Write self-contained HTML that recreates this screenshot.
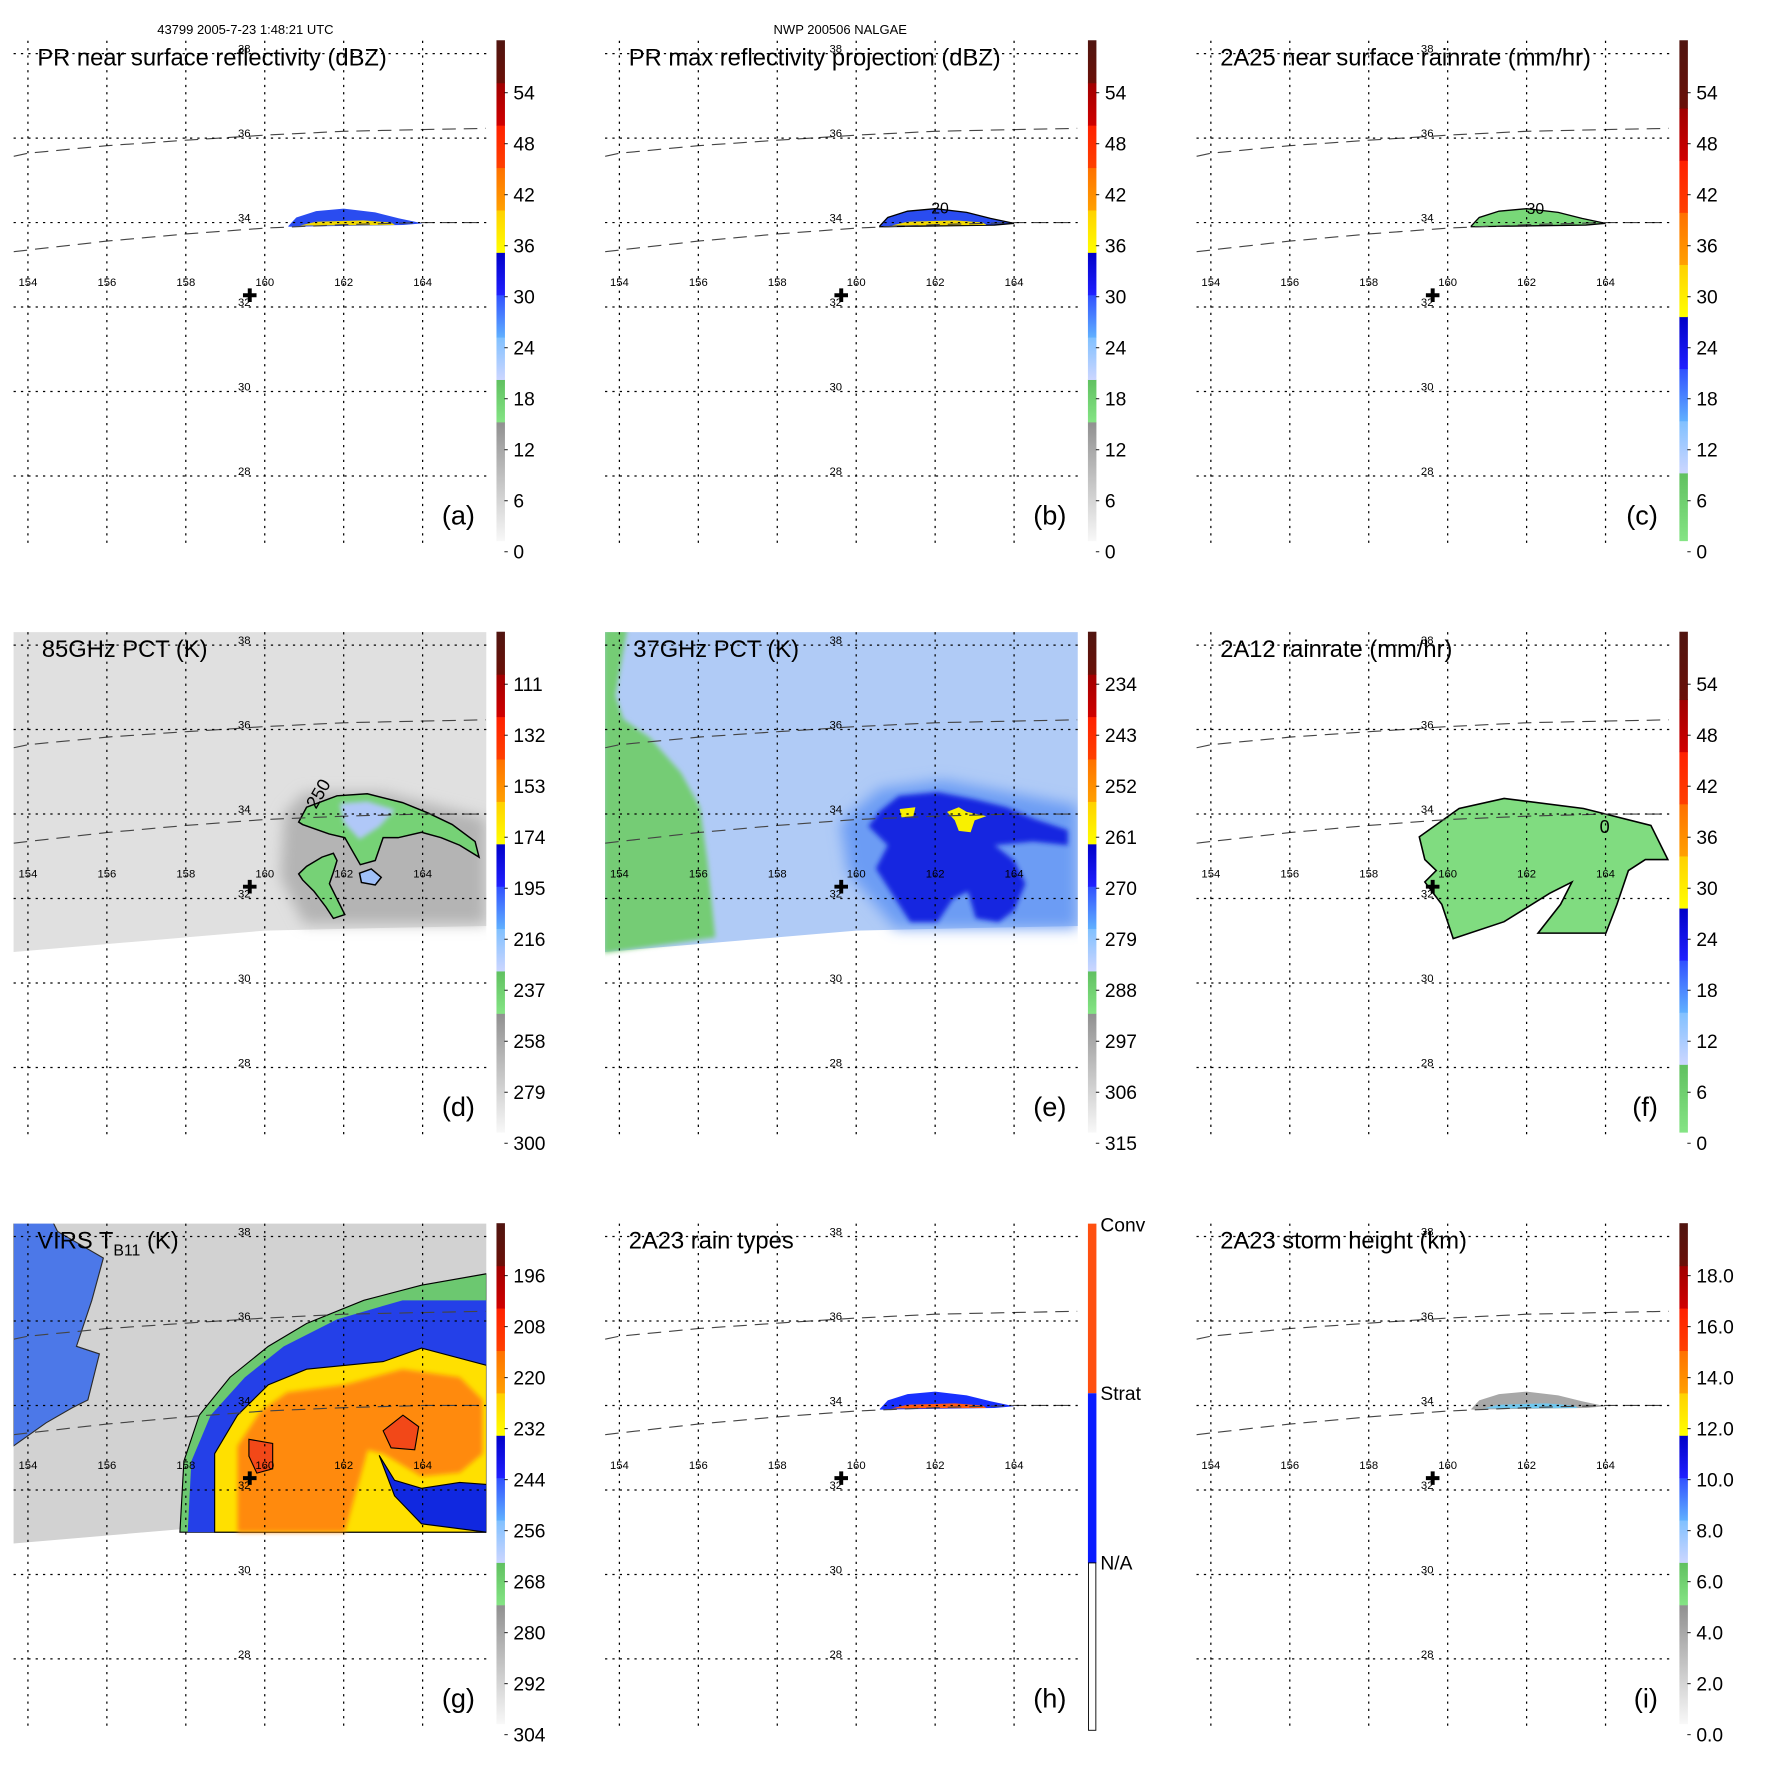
<!DOCTYPE html>
<html><head><meta charset="utf-8"><title>TRMM overpass panels</title>
<style>
html,body{margin:0;padding:0;background:#fff;}
svg{display:block;font-family:"Liberation Sans",Arial,sans-serif;}
</style></head>
<body>
<svg id="fig" xmlns="http://www.w3.org/2000/svg" width="1771" height="1771" viewBox="0 0 1566 1566">
<defs>
  <filter id="soft" x="-20%" y="-20%" width="140%" height="140%"><feGaussianBlur stdDeviation="6"/></filter>
  <filter id="soft2" x="-20%" y="-20%" width="140%" height="140%"><feGaussianBlur stdDeviation="2"/></filter>
  <clipPath id="mapclip"><rect x="12" y="36" width="418" height="448"/></clipPath>
</defs>
<text x="217" y="30" font-size="11.5" text-anchor="middle">43799 2005-7-23 1:48:21 UTC</text>
<text x="743" y="30" font-size="11.5" text-anchor="middle">NWP 200506 NALGAE</text>
</svg>
<script>
// ---- axes data ----
const lonTicks = [154,156,158,160,162,164];
const latTicks = [38,36,34,32,30,28];
const stormCenter = [159.62, 32.28];
const swathTop = [[153.64,35.57],[154,35.64],[156,35.82],[158,35.95],[160,36.07],[162,36.16],[164,36.2],[165.6,36.23]];
const swathBot = [[153.64,33.31],[154,33.35],[156,33.56],[158,33.73],[160,33.87],[162,33.95],[164,34.0],[165.6,34.0]];
const tmiSwath = [[153.6,38.4],[165.65,38.4],[165.65,31.35],[163,31.3],[160,31.24],[157,31.0],[153.6,30.73]];
const prBlob = [[160.6,33.92],[160.8,34.12],[161.3,34.27],[162,34.33],[162.8,34.24],[163.4,34.1],[164,33.98],[163.5,33.94],[160.6,33.9]];
const prCore = [[160.9,33.93],[161.3,34.02],[162.5,34.05],[163.2,34.0],[163.3,33.94]];
const pct85Shade = [[160.5,34.0],[161,34.5],[163,34.5],[165.6,33.9],[165.6,31.4],[161,31.4],[160.4,32.5]];
const pct85Main = [[160.86,33.81],[161.06,34.16],[161.83,34.43],[162.6,34.48],[163.49,34.27],[164.15,34.02],[164.75,33.75],[165.33,33.35],[165.43,32.98],[164.94,33.26],[164.47,33.44],[163.97,33.57],[163.38,33.44],[163.0,33.44],[162.8,32.9],[162.42,32.8],[162.03,33.44],[161.63,33.53],[160.96,33.75]];
const pct85Low = [[160.86,32.58],[161.06,32.76],[161.45,32.98],[161.74,33.07],[161.83,32.9],[161.74,32.62],[161.64,32.35],[161.83,31.99],[162.03,31.62],[161.74,31.53],[161.55,31.8],[161.25,32.17],[160.96,32.44]];
const pct85Small = [[162.4,32.6],[162.7,32.7],[162.95,32.5],[162.8,32.32],[162.45,32.38]];
const pct85Ice = [[161.9,34.25],[162.6,34.3],[163.3,34.1],[162.9,33.7],[162.4,33.4],[162.0,33.8]];
const pct37Green = [[153.6,38.4],[154.2,38.4],[153.9,36.8],[154.1,36.25],[154.78,35.8],[155.56,34.98],[156.04,34.16],[156.23,32.9],[156.43,31.08],[153.6,30.71]];
const pct37Halo = [[159.6,33.8],[160.6,34.6],[162.2,34.8],[165.6,34.2],[165.6,31.3],[161,31.3],[159.8,32.6]];
const pct37Core = [[160.6,34.07],[161.08,34.43],[162.06,34.52],[163.03,34.34],[163.81,34.16],[164.48,33.89],[165.36,33.62],[165.36,33.26],[164.48,33.35],[163.51,33.26],[164.0,32.9],[164.29,32.35],[164.0,31.72],[163.61,31.44],[163.03,31.53],[162.83,32.17],[162.45,31.99],[162.06,31.44],[161.37,31.44],[160.99,31.99],[160.5,32.71],[160.8,33.26],[160.31,33.71]];
const pct37Ice1 = [[162.3,34.05],[162.6,34.16],[162.8,34.05],[163.3,33.95],[163.0,33.85],[162.9,33.57],[162.6,33.6],[162.5,33.85]];
const pct37Ice2 = [[161.1,34.12],[161.5,34.16],[161.45,33.95],[161.15,33.92]];
const tmiRain = [[159.28,33.46],[160.29,34.13],[161.43,34.37],[163.44,34.13],[165.15,33.73],[165.58,32.92],[165.01,32.92],[164.58,32.66],[164.29,31.86],[164.01,31.18],[162.29,31.18],[162.86,31.86],[163.15,32.39],[162.58,32.12],[161.43,31.45],[160.14,31.05],[159.85,31.86],[159.42,32.39],[159.71,32.66],[159.42,32.92]];
const virsCloudW = [[153.63,38.67],[154.46,38.67],[154.75,38.12],[155.91,37.49],[155.62,36.49],[155.23,35.4],[155.81,35.22],[155.52,34.13],[155.13,33.95],[154.46,33.59],[153.63,33.04]];
const virsGreen = [[157.85,31.0],[157.95,32.68],[158.34,33.77],[159.12,34.67],[160.09,35.4],[161.06,35.94],[162.51,36.49],[163.97,36.85],[165.62,37.12],[165.62,31.0]];
const virsBlue = [[158.05,31.0],[158.14,32.68],[158.63,33.77],[159.5,34.67],[160.48,35.4],[161.83,36.04],[163.49,36.49],[165.62,36.49],[165.62,31.0]];
const virsYellow = [[158.73,31.0],[158.73,32.86],[159.31,33.77],[160.09,34.49],[161.06,34.86],[163.0,35.04],[163.97,35.36],[165.62,34.95],[165.62,31.0]];
const virsOrange = [[159.31,31.0],[159.31,33.04],[159.89,33.86],[160.57,34.31],[162.03,34.49],[163.49,34.86],[164.94,34.67],[165.52,34.13],[165.52,32.86],[164.94,32.41],[163.97,32.32],[163.0,32.86],[162.61,32.95],[162.03,31.0]];
const virsTongue = [[162.9,32.82],[163.29,32.23],[163.97,32.04],[164.94,32.18],[165.62,32.13],[165.62,31.0],[163.97,31.2],[163.29,31.86]];
const virsRed1 = [[159.6,33.2],[160.2,33.1],[160.2,32.5],[159.8,32.4],[159.6,32.8]];
const virsRed2 = [[163.0,33.4],[163.5,33.77],[163.9,33.5],[163.8,32.95],[163.2,33.0]];
const ticksA = ["54","48","42","36","30","24","18","12","6","0"];
const ticksD = ["111","132","153","174","195","216","237","258","279","300"];
const ticksE = ["234","243","252","261","270","279","288","297","306","315"];
const ticksG = ["196","208","220","232","244","256","268","280","292","304"];
const ticksI = ["18.0","16.0","14.0","12.0","10.0","8.0","6.0","4.0","2.0","0.0"];
const rainTypes = ["Conv","Strat","N/A"];

const NS="http://www.w3.org/2000/svg";
const svg=document.getElementById('fig');
function X(lon){return 24.7+(lon-154)*34.9;}
function Y(lat){return 47.4+(38-lat)*37.35;}
function el(tag,attrs,parent){const e=document.createElementNS(NS,tag);for(const k in attrs)e.setAttribute(k,attrs[k]);(parent||svg).appendChild(e);return e;}
function pts(a){return a.map(p=>X(p[0]).toFixed(1)+','+Y(p[1]).toFixed(1)).join(' ');}
function poly(g,a,fill,name,extra){const e=el('polygon',Object.assign({points:pts(a),fill:fill},extra||{}),g);


return e;}

const BANDS_STD=[[2.8,'#f8f8f8','#909090'],[1,'#84e484','#60c060'],[1,'#ccd6ff','#80c0ff'],[1,'#60b0ff','#3050ff'],[1,'#2020ff','#0000c8'],[1,'#ffff00','#ffd000'],[1,'#ffa000','#ff7000'],[1,'#ff4000','#ff2000'],[1,'#d00000','#a00000'],[1,'#6a1008','#501510']];
const BANDS_RAIN=[[1.3,'#84e484','#60c060'],[1,'#ccd6ff','#80c0ff'],[1,'#60b0ff','#3050ff'],[1,'#2020ff','#0000c8'],[1,'#ffff00','#ffd000'],[1,'#ffa000','#ff7000'],[1,'#ff4000','#ff2000'],[1,'#d00000','#a00000'],[1.3,'#6a1008','#501510']];
let gid=0;
function colorbar(g,bands,labels){
  const top=35.6,bot=478,total=bands.reduce((s,b)=>s+b[0],0);let y=bot;
  const cb=el('g',{},g);
  
  
  bands.forEach(b=>{const h=(bot-top)*b[0]/total;gid++;
    const lg=el('linearGradient',{id:'cg'+gid,x1:0,y1:1,x2:0,y2:0},svg.querySelector('defs'));
    el('stop',{offset:0,'stop-color':b[1]},lg);el('stop',{offset:1,'stop-color':b[2]},lg);
    el('rect',{x:439,y:(y-h).toFixed(1),width:7.5,height:(h+0.5).toFixed(1),fill:'url(#cg'+gid+')'},cb);y-=h;});
  labels.forEach((t,i)=>{const ly=82+i*45.1;
    el('line',{x1:446,x2:449,y1:ly,y2:ly,stroke:'#000','stroke-width':0.8},cb);
    const tx=el('text',{x:454,y:ly+6,'font-size':17},cb);tx.textContent=t;
    
    });
}
const panels=[
 {id:'a',ox:0,oy:0,title:'PR near surface reflectivity (dBZ)',ticks:ticksA,bands:BANDS_STD},
 {id:'b',ox:523,oy:0,title:'PR max reflectivity projection (dBZ)',ticks:ticksA,bands:BANDS_STD},
 {id:'c',ox:1046,oy:0,title:'2A25 near surface rainrate (mm/hr)',ticks:ticksA,bands:BANDS_RAIN},
 {id:'d',ox:0,oy:523,title:'85GHz PCT (K)',ticks:ticksD,bands:BANDS_STD},
 {id:'e',ox:523,oy:523,title:'37GHz PCT (K)',ticks:ticksE,bands:BANDS_STD},
 {id:'f',ox:1046,oy:523,title:'2A12 rainrate (mm/hr)',ticks:ticksA,bands:BANDS_RAIN},
 {id:'g',ox:0,oy:1046,title:'VIRS',ticks:ticksG,bands:BANDS_STD},
 {id:'h',ox:523,oy:1046,title:'2A23 rain types',ticks:null,bands:null},
 {id:'i',ox:1046,oy:1046,title:'2A23 storm height (km)',ticks:ticksI,bands:BANDS_STD}
];
panels.forEach(P=>{
  const g=el('g',{transform:`translate(${P.ox},${P.oy})`});
  
  
  const m=el('g',{'clip-path':'url(#mapclip)'},g);
  
  
  if(P.id==='a'||P.id==='b'||P.id==='h'){
    poly(m,prBlob,P.id==='h'?'#1830ff':'#2a4cf0','pr-echo',P.id==='b'?{stroke:'#000','stroke-width':1.2}:{});
    poly(m,prCore,P.id==='h'?'#ff5a10':'#f2d800','pr-core-echo');
    if(P.id==='b'){const t=el('text',{x:X(161.9),y:Y(34.22),'font-size':14},m);t.textContent='20';}
  }
  if(P.id==='c'){poly(m,prBlob,'#78d878','rain-echo',{stroke:'#000','stroke-width':1.2});
    const t=el('text',{x:X(162),y:Y(34.2),'font-size':14},m);t.textContent='30';}
  if(P.id==='i'){poly(m,prBlob,'#a8a8a8','storm-height-echo');poly(m,prCore,'#70c8f0','storm-height-core');}
  if(P.id==='d'){poly(m,tmiSwath,'#e0e0e0','swath-background');
    poly(m,pct85Shade,'#b4b4b4','scattering-shade',{filter:'url(#soft)'});
    poly(m,pct85Main,'#76d276','ice-region-main',{stroke:'#000','stroke-width':1.3});
    poly(m,pct85Ice,'#b0c8f8','ice-core',{filter:'url(#soft2)'});
    poly(m,pct85Low,'#76d276','ice-region-south',{stroke:'#000','stroke-width':1.3});
    poly(m,pct85Small,'#a0c0f8','ice-region-small',{stroke:'#000','stroke-width':1.3});
    const t=el('text',{x:X(161.3),y:Y(34.1),'font-size':16,transform:`rotate(-60 ${X(161.3)} ${Y(34.1)})`},m);t.textContent='250';}
  if(P.id==='e'){poly(m,tmiSwath,'#b0cbf6','swath-background');
    poly(m,pct37Green,'#74cc74','low-emission-region',{filter:'url(#soft2)'});
    poly(m,pct37Halo,'#6c9cf4','scattering-halo',{filter:'url(#soft)'});
    poly(m,pct37Core,'#1428e0','scattering-core',{filter:'url(#soft2)'});
    poly(m,pct37Ice1,'#f8f000','ice-max');poly(m,pct37Ice2,'#f8f000','ice-max-2');}
  if(P.id==='f'){poly(m,tmiRain,'#80dc80','rain-region',{stroke:'#000','stroke-width':1.4});
    const t=el('text',{x:X(163.85),y:Y(33.55),'font-size':16},m);t.textContent='0';}
  if(P.id==='g'){poly(m,tmiSwath,'#d2d2d2','swath-background');
    poly(m,virsCloudW,'#4c78e8','cloud-west',{stroke:'#2a2a2a','stroke-width':1});
    poly(m,virsGreen,'#6cc870','cloud-edge',{stroke:'#000','stroke-width':1});
    poly(m,virsBlue,'#2440e8','cloud-cold',{});
    poly(m,virsYellow,'#ffe000','cloud-colder',{stroke:'#000','stroke-width':1});
    poly(m,virsOrange,'#ff8a10','cloud-coldest',{filter:'url(#soft2)'});
    poly(m,virsTongue,'#1028e0','cloud-dry-slot',{stroke:'#000','stroke-width':1});
    poly(m,virsRed1,'#f24818','cloud-top-1',{stroke:'#000','stroke-width':1});
    poly(m,virsRed2,'#f24818','cloud-top-2',{stroke:'#000','stroke-width':1});}
  [swathTop,swathBot].forEach(s=>{const l=el('polyline',{points:pts(s),fill:'none',stroke:'#444','stroke-width':1,'stroke-dasharray':'12,7'},m);
    
    });
  lonTicks.forEach(lon=>{const l=el('line',{x1:X(lon),x2:X(lon),y1:36,y2:484,stroke:'#000','stroke-width':1.1,'stroke-dasharray':'2,4.5'},g);
    
    
    const t=el('text',{x:X(lon),y:253,'font-size':10,'text-anchor':'middle'},g);t.textContent=lon;
    
    });
  latTicks.forEach(lat=>{const l=el('line',{x1:12,x2:430,y1:Y(lat),y2:Y(lat),stroke:'#000','stroke-width':1.1,'stroke-dasharray':'2,4.5'},g);
    
    
    const t=el('text',{x:216,y:Y(lat)-1,'font-size':10,'text-anchor':'middle'},g);t.textContent=lat;
    
    });
  const cx=X(stormCenter[0]),cy=Y(stormCenter[1]);
  const cr=el('path',{d:`M${cx-6},${cy}H${cx+6}M${cx},${cy-6}V${cy+6}`,stroke:'#000','stroke-width':3.5,fill:'none'},g);
  
  
  const tt=el('text',{x:P.id==='d'||P.id==='e'?37:33,y:58,'font-size':21},g);
  
  
  if(P.id==='g'){tt.textContent='VIRS T';const s=el('tspan',{'font-size':14,dy:6},tt);s.textContent='B11';const s2=el('tspan',{dy:-6},tt);s2.textContent=' (K)';}
  else tt.textContent=P.title;
  const lt=el('text',{x:420,y:464,'font-size':24,'text-anchor':'end'},g);lt.textContent='('+P.id+')';
  
  
  if(P.bands) colorbar(g,P.bands,P.ticks);
  else{
    const cb=el('g',{},g);
    
    
    el('rect',{x:439,y:36,width:7.5,height:150,fill:'#ff5010'},cb);
    el('rect',{x:439,y:186,width:7.5,height:150,fill:'#0a1cff'},cb);
    el('rect',{x:439.5,y:336,width:6.5,height:148,fill:'#fff',stroke:'#000','stroke-width':0.8},cb);
    const ys=[43,192,342];
    rainTypes.forEach((t,i)=>{const tx=el('text',{x:450,y:ys[i],'font-size':17},cb);tx.textContent=t;
      
      });
  }
});
</script>
</body></html>
